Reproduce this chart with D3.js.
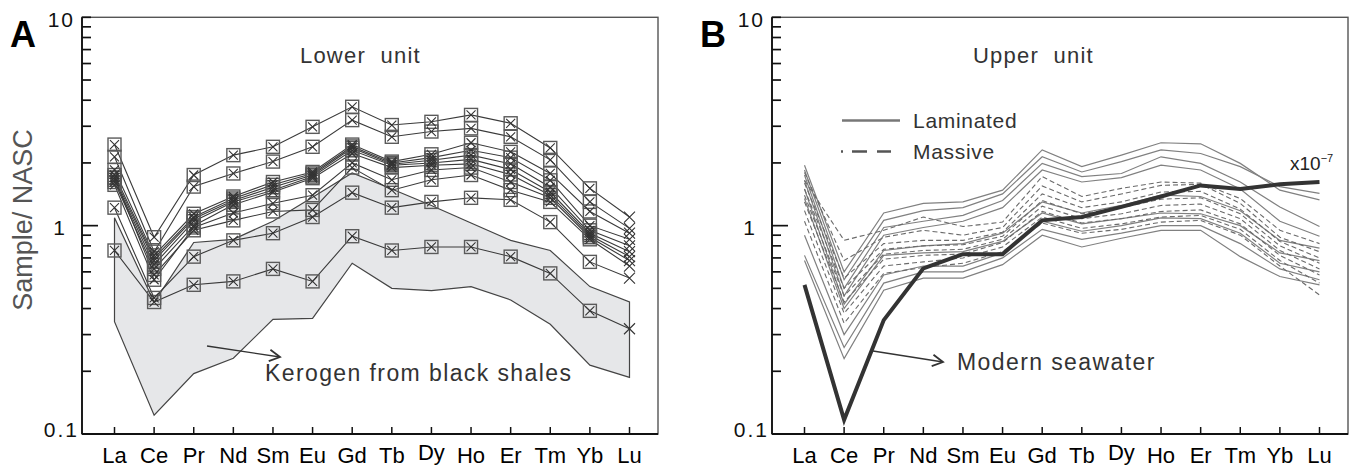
<!DOCTYPE html>
<html>
<head>
<meta charset="utf-8">
<script src="https://cdn.jsdelivr.net/npm/d3@7"></script>
<style>
  body { margin: 0; background: #fff; }
  svg { display: block; font-family: "Liberation Sans", Arial, Helvetica, sans-serif; }
</style>
</head>
<body>
<script>
// REE elements on the x axis
const elements = ["La", "Ce", "Pr", "Nd", "Sm", "Eu", "Gd", "Tb", "Dy", "Ho", "Er", "Tm", "Yb", "Lu"];

// y axis ticks
const minorTicks = [0.2, 0.3, 0.4, 0.5, 0.6, 0.7, 0.8, 0.9, 2, 3, 4, 5, 6, 7, 8, 9, 10];
const labelTicks = [0.1, 1, 10];
const labelText = ["0.1", "1", "10"];

// A: lower unit samples (Sample/NASC)
const lowerSamples = [
  [2.45, 0.88, 1.75, 2.18, 2.39, 2.98, 3.72, 3.04, 3.15, 3.40, 3.10, 2.36, 1.51, 1.10],
  [2.14, 0.75, 1.54, 1.78, 2.03, 2.39, 3.21, 2.67, 2.83, 2.93, 2.67, 2.07, 1.30, 0.97],
  [1.85, 0.72, 1.14, 1.38, 1.62, 1.81, 2.45, 2.03, 2.20, 2.50, 2.26, 1.78, 1.17, 0.92],
  [1.75, 0.70, 1.10, 1.35, 1.57, 1.78, 2.40, 2.00, 2.12, 2.30, 2.12, 1.65, 1.00, 0.86],
  [1.70, 0.68, 1.08, 1.32, 1.53, 1.75, 2.36, 1.97, 2.06, 2.18, 1.98, 1.53, 0.95, 0.80],
  [1.66, 0.65, 1.05, 1.30, 1.48, 1.72, 2.30, 1.95, 2.00, 2.08, 1.86, 1.45, 0.92, 0.75],
  [1.62, 0.62, 1.00, 1.26, 1.45, 1.69, 2.22, 1.90, 1.95, 1.98, 1.76, 1.40, 0.90, 0.71],
  [1.57, 0.55, 0.98, 1.15, 1.28, 1.40, 2.00, 1.66, 1.85, 1.90, 1.62, 1.36, 0.88, 0.68],
  [1.70, 0.58, 0.95, 1.06, 1.17, 1.19, 1.90, 1.48, 1.66, 1.75, 1.48, 1.30, 0.86, 0.64],
  [1.22, 0.45, 0.71, 0.85, 0.92, 1.10, 1.44, 1.22, 1.30, 1.36, 1.33, 1.04, 0.67, 0.56],
  [0.76, 0.43, 0.52, 0.54, 0.62, 0.54, 0.89, 0.76, 0.79, 0.79, 0.71, 0.59, 0.39, 0.32]
];

// A: kerogen from black shales, field envelope
const kerogenUpper = [1.09, 0.43, 0.83, 0.86, 1.05, 1.37, 1.79, 1.50, 1.25, 1.03, 0.85, 0.76, 0.51, 0.43];
const kerogenLower = [0.346, 0.123, 0.195, 0.231, 0.355, 0.359, 0.66, 0.50, 0.488, 0.51, 0.44, 0.336, 0.214, 0.187];

// B: upper unit samples
const laminated = [
  [1.95, 0.60, 1.15, 1.28, 1.30, 1.48, 2.31, 1.92, 2.18, 2.50, 2.47, 1.99, 1.48, 1.33],
  [1.85, 0.55, 1.06, 1.18, 1.22, 1.42, 2.14, 1.81, 2.03, 2.31, 2.22, 1.92, 1.54, 1.43],
  [1.75, 0.50, 0.98, 1.05, 1.12, 1.32, 1.99, 1.72, 1.78, 2.14, 1.99, 1.62, 1.23, 0.99],
  [1.65, 0.46, 0.90, 0.98, 1.05, 1.22, 1.85, 1.62, 1.70, 1.95, 1.85, 1.50, 1.05, 0.89],
  [1.50, 0.42, 0.76, 0.80, 0.82, 0.92, 1.30, 1.15, 1.25, 1.40, 1.38, 1.18, 0.85, 0.78],
  [1.35, 0.40, 0.72, 0.74, 0.75, 0.84, 1.15, 1.02, 1.08, 1.15, 1.14, 1.00, 0.74, 0.68],
  [0.90, 0.30, 0.58, 0.64, 0.64, 0.74, 1.05, 0.94, 1.00, 1.09, 1.08, 0.92, 0.66, 0.60],
  [0.72, 0.26, 0.53, 0.60, 0.60, 0.70, 0.96, 0.86, 0.92, 1.00, 1.00, 0.82, 0.62, 0.55],
  [0.68, 0.23, 0.49, 0.56, 0.56, 0.65, 0.90, 0.79, 0.87, 0.95, 0.95, 0.71, 0.57, 0.52]
];
const massive = [
  [1.65, 0.85, 0.95, 1.10, 0.99, 1.04, 1.72, 1.38, 1.51, 1.62, 1.60, 1.35, 0.95, 0.82],
  [1.80, 0.68, 0.88, 0.95, 0.90, 0.98, 1.55, 1.30, 1.42, 1.56, 1.58, 1.28, 0.88, 0.75],
  [1.60, 0.56, 0.82, 0.85, 0.85, 0.93, 1.42, 1.22, 1.30, 1.45, 1.46, 1.20, 0.84, 0.70],
  [1.50, 0.50, 0.77, 0.80, 0.81, 0.89, 1.32, 1.14, 1.22, 1.34, 1.36, 1.14, 0.80, 0.66],
  [1.40, 0.46, 0.73, 0.76, 0.77, 0.86, 1.24, 1.08, 1.14, 1.25, 1.27, 1.08, 0.76, 0.62],
  [1.30, 0.43, 0.69, 0.72, 0.73, 0.83, 1.17, 1.03, 1.08, 1.17, 1.19, 1.02, 0.72, 0.58],
  [1.18, 0.38, 0.64, 0.67, 0.70, 0.79, 1.10, 0.97, 1.02, 1.10, 1.12, 0.96, 0.68, 0.53],
  [1.05, 0.34, 0.59, 0.63, 0.66, 0.75, 1.03, 0.92, 0.96, 1.04, 1.06, 0.90, 0.64, 0.465]
];
// modern seawater (x10^-7)
const seawater = [0.52, 0.117, 0.352, 0.624, 0.73, 0.73, 1.06, 1.10, 1.23, 1.38, 1.56, 1.50, 1.58, 1.62];

const W = 1356, H = 471;
const yTop = 17.3, yBottom = 434;
const ink = "#111";

const svg = d3.select("body").append("svg")
    .attr("width", W)
    .attr("height", H)
    .attr("viewBox", [0, 0, W, H]);

// draws frame, ticks and labels; returns the scales
function drawFrame(x0, x1, letter) {
    const x = d3.scalePoint().domain(elements).range([x0 + 32.5, x1 - 28.5]);
    const y = d3.scaleLog().domain([0.1, 10]).range([yBottom, yTop]);
    const g = svg.append("g");

    g.append("rect")
        .attr("x", x0).attr("y", yTop)
        .attr("width", x1 - x0).attr("height", yBottom - yTop)
        .attr("fill", "none").attr("stroke", "#555").attr("stroke-width", 1.4);
    g.append("line")
        .attr("x1", x0).attr("x2", x0).attr("y1", yTop).attr("y2", yBottom)
        .attr("stroke", ink).attr("stroke-width", 1.8);
    g.append("line")
        .attr("x1", x0).attr("x2", x1).attr("y1", yBottom).attr("y2", yBottom)
        .attr("stroke", ink).attr("stroke-width", 1.8);

    // y ticks, inward
    g.selectAll(".ytick")
        .data(minorTicks.concat([1]))
        .join("line")
        .attr("class", "ytick")
        .attr("x1", x0)
        .attr("x2", d => x0 + (d === 1 ? 16 : 9))
        .attr("y1", d => y(d)).attr("y2", d => y(d))
        .attr("stroke", ink).attr("stroke-width", 1.7);

    const endOff = {"0.1": 5, "1": 17, "10": 9};
    const dyOff = {"0.1": 3, "1": 9.5, "10": 9.5};
    g.selectAll(".ylab")
        .data(labelTicks)
        .join("text")
        .attr("class", "ylab")
        .attr("x", (d, i) => x0 - endOff[labelText[i]] + 2)
        .attr("y", (d, i) => y(d) + dyOff[labelText[i]])
        .attr("text-anchor", "end")
        .attr("font-size", 21)
        .attr("letter-spacing", 2)
        .attr("fill", "#111")
        .text((d, i) => labelText[i]);

    // x ticks, inward
    g.selectAll(".xtick")
        .data(elements)
        .join("line")
        .attr("class", "xtick")
        .attr("x1", d => x(d)).attr("x2", d => x(d))
        .attr("y1", yBottom).attr("y2", yBottom - 7)
        .attr("stroke", ink).attr("stroke-width", 1.5);
    g.selectAll(".xlab")
        .data(elements)
        .join("text")
        .attr("class", "xlab")
        .attr("x", d => x(d))
        .attr("y", d => yBottom + (d === "Dy" ? 25.5 : 29))
        .attr("text-anchor", "middle")
        .attr("font-size", 22)
        .attr("fill", "#000")
        .text(d => d);

    g.append("text")
        .attr("x", x0 - 72).attr("y", 47)
        .attr("font-size", 36).attr("font-weight", "bold")
        .attr("fill", "#000")
        .text(letter);

    return {x, y, g};
}

function arrow(g, xa, ya, xb, yb) {
    const a = Math.atan2(yb - ya, xb - xa), L = 12, s = 0.5;
    g.append("line")
        .attr("x1", xa).attr("y1", ya).attr("x2", xb).attr("y2", yb)
        .attr("stroke", "#333").attr("stroke-width", 1.3);
    g.append("path")
        .attr("d", `M${xb - L * Math.cos(a - s)},${yb - L * Math.sin(a - s)}L${xb},${yb}L${xb - L * Math.cos(a + s)},${yb - L * Math.sin(a + s)}`)
        .attr("fill", "none").attr("stroke", "#333").attr("stroke-width", 1.8);
}

// ---------- Panel A ----------
{
    const {x, y, g} = drawFrame(82, 658, "A");
    const line = d3.line().x((d, i) => x(elements[i])).y(d => y(d));

    const poly = kerogenUpper.map((v, i) => [x(elements[i]), y(v)])
        .concat(kerogenLower.map((v, i) => [x(elements[i]), y(v)]).reverse());
    g.insert("path", ":first-child")
        .attr("d", "M" + poly.join("L") + "Z")
        .attr("fill", "#e6e7e9")
        .attr("stroke", "#444").attr("stroke-width", 1.2);

    g.append("text")
        .attr("x", 300).attr("y", 63)
        .attr("font-size", 22).attr("letter-spacing", 1.2)
        .attr("fill", "#333")
        .attr("xml:space", "preserve")
        .text("Lower  unit");

    g.selectAll(".sample")
        .data(lowerSamples)
        .join("path")
        .attr("class", "sample")
        .attr("d", line)
        .attr("fill", "none")
        .attr("stroke", "#3a3a3a").attr("stroke-width", 1.1);

    const pts = lowerSamples.flatMap(s => s.map((v, i) => ({e: elements[i], v})));
    g.selectAll(".sq")
        .data(pts.filter(p => p.e !== "Lu"))
        .join("rect")
        .attr("class", "sq")
        .attr("x", p => x(p.e) - 6.5).attr("y", p => y(p.v) - 6.5)
        .attr("width", 13).attr("height", 13)
        .attr("fill", "none").attr("stroke", "#5a5a5a").attr("stroke-width", 1.4);
    g.selectAll(".cx")
        .data(pts)
        .join("path")
        .attr("class", "cx")
        .attr("d", p => {
            const cx = x(p.e), cy = y(p.v), r = p.e === "Lu" ? 5.5 : 4.5;
            return `M${cx - r},${cy - r}L${cx + r},${cy + r}M${cx - r},${cy + r}L${cx + r},${cy - r}`;
        })
        .attr("stroke", "#333").attr("stroke-width", 1.1);

    arrow(g, 207, 346, 280, 357);
    g.append("text")
        .attr("x", 265).attr("y", 381)
        .attr("font-size", 23).attr("letter-spacing", 1.4)
        .attr("fill", "#333")
        .text("Kerogen from black shales");

    svg.append("text")
        .attr("transform", "translate(32,220) rotate(-90)")
        .attr("text-anchor", "middle")
        .attr("font-size", 27)
        .attr("fill", "#555")
        .text("Sample/ NASC");
}

// ---------- Panel B ----------
{
    const {x, y, g} = drawFrame(772, 1348, "B");
    const line = d3.line().x((d, i) => x(elements[i])).y(d => y(d));

    g.append("text")
        .attr("x", 973).attr("y", 63)
        .attr("font-size", 22).attr("letter-spacing", 1.2)
        .attr("fill", "#333")
        .attr("xml:space", "preserve")
        .text("Upper  unit");

    g.selectAll(".lam")
        .data(laminated)
        .join("path")
        .attr("class", "lam")
        .attr("d", line)
        .attr("fill", "none")
        .attr("stroke", "#808080").attr("stroke-width", 1.2);
    g.selectAll(".mas")
        .data(massive)
        .join("path")
        .attr("class", "mas")
        .attr("d", line)
        .attr("fill", "none")
        .attr("stroke", "#6a6a6a").attr("stroke-width", 1.1)
        .attr("stroke-dasharray", "5,3");

    g.append("path")
        .attr("d", line(seawater))
        .attr("fill", "none")
        .attr("stroke", "#333").attr("stroke-width", 4)
        .attr("stroke-linejoin", "miter");

    // legend
    g.append("line")
        .attr("x1", 842).attr("x2", 900).attr("y1", 120.5).attr("y2", 120.5)
        .attr("stroke", "#777").attr("stroke-width", 2.5);
    g.append("line")
        .attr("x1", 841).attr("x2", 891).attr("y1", 151.5).attr("y2", 151.5)
        .attr("stroke", "#555").attr("stroke-width", 2.5)
        .attr("stroke-dasharray", "2,9,15,10,14,100");
    g.append("text")
        .attr("x", 913).attr("y", 127.5)
        .attr("font-size", 21).attr("letter-spacing", 0.7)
        .attr("fill", "#333").text("Laminated");
    g.append("text")
        .attr("x", 913).attr("y", 159)
        .attr("font-size", 21).attr("letter-spacing", 0.7)
        .attr("fill", "#333").text("Massive");

    const t = g.append("text")
        .attr("x", 1290).attr("y", 170)
        .attr("font-size", 19)
        .attr("fill", "#222");
    t.append("tspan").text("x10");
    t.append("tspan").attr("dy", -8).attr("font-size", 11).text("−7");

    arrow(g, 873, 351, 943, 362);
    g.append("text")
        .attr("x", 957).attr("y", 370)
        .attr("font-size", 23).attr("letter-spacing", 1.4)
        .attr("fill", "#333")
        .text("Modern seawater");
}
</script>
</body>
</html>
